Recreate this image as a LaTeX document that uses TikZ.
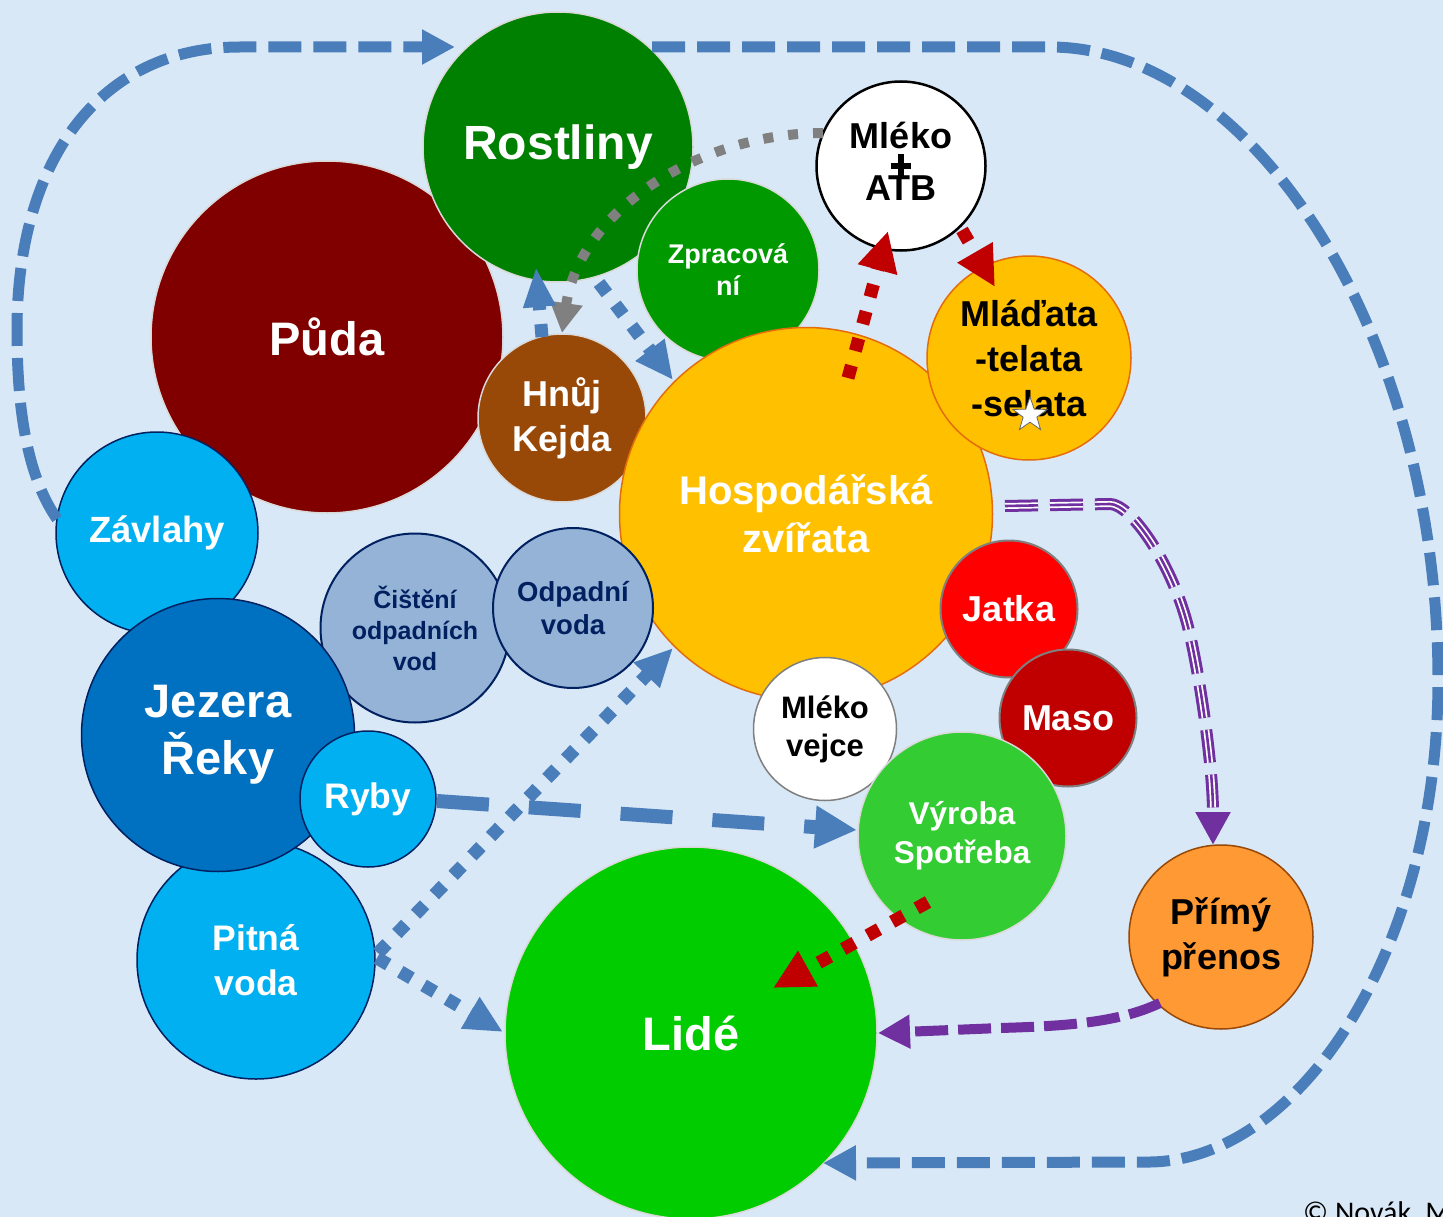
\documentclass[tikz,border=0pt]{standalone}
\usepackage{fontspec}
\setmainfont{Liberation Sans}
\newfontfamily\capfont{Carlito}
\usetikzlibrary{arrows.meta,shapes.geometric}

\definecolor{bgc}{HTML}{D9E8F6}
\definecolor{cRost}{HTML}{008000}
\definecolor{cPuda}{HTML}{800000}
\definecolor{cZprac}{HTML}{009900}
\definecolor{cGold}{HTML}{FFC000}
\definecolor{cGoldEdge}{HTML}{E46C0A}
\definecolor{cHnuj}{HTML}{984807}
\definecolor{cSky}{HTML}{00B0F0}
\definecolor{cNavy}{HTML}{002060}
\definecolor{cSteel}{HTML}{95B3D7}
\definecolor{cLake}{HTML}{0070C0}
\definecolor{cJatka}{HTML}{FF0000}
\definecolor{cMaso}{HTML}{C00000}
\definecolor{cVyr}{HTML}{33CC33}
\definecolor{cLide}{HTML}{00CC00}
\definecolor{cPrimy}{HTML}{FF9933}
\definecolor{cEdge}{HTML}{D9D9D9}
\definecolor{cGrayEdge}{HTML}{7F7F7F}
\definecolor{cBlue}{HTML}{4A7EBB}
\definecolor{cRed}{HTML}{C00000}
\definecolor{cPurp}{HTML}{7030A0}
\definecolor{cDots}{HTML}{808080}

\begin{document}
\begin{tikzpicture}[x=1pt,y=-1pt,
  ball/.style={circle, inner sep=0pt, align=center, line width=1.5pt},
  fs/.style 2 args={font=\bfseries\fontsize{#1pt}{#2pt}\selectfont},
  loopline/.style={draw=cBlue, line width=11pt, dash pattern=on 33pt off 12pt,
    -{Triangle[length=33pt,width=33pt]}},
  bluedots/.style={draw=cBlue, line width=13pt, dash pattern=on 13pt off 14pt,
    -{Triangle[length=38pt,width=34pt]}},
  reddots/.style={draw=cRed, line width=13pt, dash pattern=on 13pt off 15pt,
    -{Triangle[length=40pt,width=38pt]}},
  graydots/.style={draw=cDots, line width=10pt, dash pattern=on 10pt off 15pt,
    -{Triangle[length=30pt,width=31pt]}},
  bluedash/.style={draw=cBlue, line width=14pt, dash pattern=on 52pt off 40pt,
    -{Triangle[length=42pt,width=40pt]}},
  purpdash/.style={draw=cPurp, line width=10pt, dash pattern=on 33pt off 10pt,
    -{Triangle[length=32pt,width=32pt]}}
]
% background
\fill[bgc] (0,0) rectangle (1443,1217);
\useasboundingbox (0,0) rectangle (1443,1217);

% circles, back to front
\node[ball, fill=cPuda, draw=cEdge, minimum size=352pt, text=white, fs={47}{52}] (puda) at (327,337) {Půda};
\node[ball, fill=cRost, draw=cEdge, minimum size=270pt, text=white, fs={48}{52}] (rost) at (558,147) {Rostliny};
\node[ball, fill=cZprac, draw=cEdge, minimum size=182pt, text=white, fs={27}{32}] (zprac) at (728,270) {Zpracová\\ní};
\node[ball, fill=cHnuj, draw=cEdge, minimum size=168pt, text=white, fs={36}{45}] (hnuj) at (562,418) {Hnůj\\Kejda};
\node[ball, fill=cGold, draw=cGoldEdge, minimum size=373pt, text=white, fs={40}{48}] (hosp) at (806,514) {Hospodářská\\zvířata};
\node[ball, fill=cGold, draw=cGoldEdge, minimum size=204pt, text=black, fs={36}{45}] (mlad) at (1029,358) {Mláďata\\-telata\\-selata};
\node[ball, fill=white, draw=black, line width=2.5pt, minimum size=169pt, text=black, fs={36}{52}] (atb) at (901,166) {Mléko\\ATB\rule[-10pt]{0pt}{10pt}};
\node[ball, fill=cJatka, draw=cGrayEdge, line width=2pt, minimum size=137pt, text=white, fs={36}{40}] (jatka) at (1009,609) {Jatka};
\node[ball, fill=cMaso, draw=cGrayEdge, line width=2pt, minimum size=137pt, text=white, fs={36}{40}] (maso) at (1068,718) {Maso};
\node[ball, fill=white, draw=cGrayEdge, minimum size=143pt, text=black, fs={31}{38}] (mlvej) at (825,729) {Mléko\\vejce};
\node[ball, fill=cVyr, draw=cEdge, minimum size=208pt, text=white, fs={31.5}{39}] (vyr) at (962,836) {Výroba\\Spotřeba};
\node[ball, fill=cLide, draw=cEdge, minimum size=372pt, text=white, fs={47}{52}] (lide) at (691,1033) {Lidé};
\node[ball, fill=cPrimy, draw=cHnuj, minimum size=184pt, text=black, fs={36}{45}] (primy) at (1221,937) {Přímý\\přenos};
\node[ball, fill=cSky, draw=cNavy, minimum size=238pt, text=white, fs={35.5}{45}] (pitna) at (256,960) {Pitná\\voda};
\node[ball, fill=cSky, draw=cNavy, minimum size=202pt, text=white, fs={36.5}{40}] (zav) at (157,533) {Závlahy};
\node[ball, fill=cSteel, draw=cNavy, line width=2pt, minimum size=189pt, text=cNavy, fs={25}{31}] (cist) at (415,628) {Čištění\\odpadních\\vod};
\node[ball, fill=cSteel, draw=cNavy, line width=2pt, minimum size=160pt, text=cNavy, fs={27.5}{33}] (odp) at (573,608) {Odpadní\\voda};
\node[ball, fill=cLake, draw=cNavy, minimum size=273pt, text=white, fs={47}{57}] (jez) at (218,735) {Jezera\\Řeky};
\node[ball, fill=cSky, draw=cNavy, minimum size=136pt, text=white, fs={35.5}{40}] (ryby) at (368,799) {Ryby};

% cross mark over the T of ATB
\fill[black] ([shift={(-3,-12)}]atb.center) rectangle ([shift={(3,11)}]atb.center);
\fill[black] ([shift={(-10,-3)}]atb.center) rectangle ([shift={(10,3)}]atb.center);

% star mark on the young-animals circle
\node[star, star points=5, star point ratio=2.5, fill=white, draw=black!60,
  line width=0.8pt, minimum size=36pt, inner sep=0pt] (starmark) at (1030,415) {};

% outer cycle: irrigation back to plants
\draw[loopline] ([shift={(-100,-14)}]zav.center)
  .. controls (30,480) and (17,420) .. (17,330)
  .. controls (17,160) and (100,47) .. (240,47)
  -- ([shift={(-103,-100)}]rost.center);
% outer cycle: plants round to people
\draw[loopline] ([shift={(94,-100)}]rost.center) -- (1050,47)
  .. controls (1250,47) and (1438,330) .. (1438,680)
  .. controls (1438,950) and (1300,1160) .. (1150,1162)
  -- ([shift={(132,130)}]lide.center);

% milk with antibiotics back to manure
\draw[graydots] ([shift={(-78,-33)}]atb.center)
  .. controls (700,133) and (580,210) .. ([shift={(0,-85)}]hnuj.center);

% blue dotted flows
\draw[bluedots, -{Triangle[length=40pt,width=30pt]}] ([shift={(-20,-81)}]hnuj.center) -- ([shift={(-22,120)}]rost.center);
\draw[bluedots] ([shift={(41,136)}]rost.center) -- ([shift={(-133,-134)}]hosp.center);
\draw[bluedots] ([shift={(122,-7)}]pitna.center) -- ([shift={(-133,134)}]hosp.center);
\draw[bluedots] ([shift={(121,-2)}]pitna.center) -- ([shift={(-188,-1)}]lide.center);

% fish to production
\draw[bluedash] ([shift={(69,2)}]ryby.center) -- ([shift={(-105,-6)}]vyr.center);

% red dotted flows
\draw[reddots] ([shift={(42,-136)}]hosp.center) -- ([shift={(-13,65)}]atb.center);
\draw[reddots] ([shift={(61,64)}]atb.center) -- ([shift={(-34,-71)}]mlad.center);
\draw[reddots] ([shift={(-34,66)}]vyr.center) -- ([shift={(82,-45)}]lide.center);

% direct transmission: striped purple line
\draw[draw=cPurp, line width=12pt, dash pattern=on 33pt off 12pt, -{Triangle[length=33pt,width=33pt]}]
  ([shift={(199,-8)}]hosp.center) -- (1110,504)
  .. controls (1130,504) and (1170,560) .. (1187,623)
  .. controls (1197,660) and (1213,760) .. ([shift={(-8,-92)}]primy.center);
\draw[draw=white, line width=6pt, dash pattern=on 33pt off 12pt, shorten >=33pt]
  ([shift={(199,-8)}]hosp.center) -- (1110,504)
  .. controls (1130,504) and (1170,560) .. (1187,623)
  .. controls (1197,660) and (1213,760) .. ([shift={(-8,-92)}]primy.center);
\draw[draw=cPurp, line width=2.6pt, dash pattern=on 33pt off 12pt, shorten >=33pt]
  ([shift={(199,-8)}]hosp.center) -- (1110,504)
  .. controls (1130,504) and (1170,560) .. (1187,623)
  .. controls (1197,660) and (1213,760) .. ([shift={(-8,-92)}]primy.center);

\draw[purpdash] ([shift={(-61,66)}]primy.center)
  .. controls (1120,1022) and (1070,1026) .. (1000,1028)
  -- ([shift={(187,0)}]lide.center);

% author note
\node[anchor=base west, inner sep=0pt, font=\capfont\fontsize{30pt}{34pt}\selectfont] (author) at (1303,1222) {© Novák, M};
\end{tikzpicture}
\end{document}
